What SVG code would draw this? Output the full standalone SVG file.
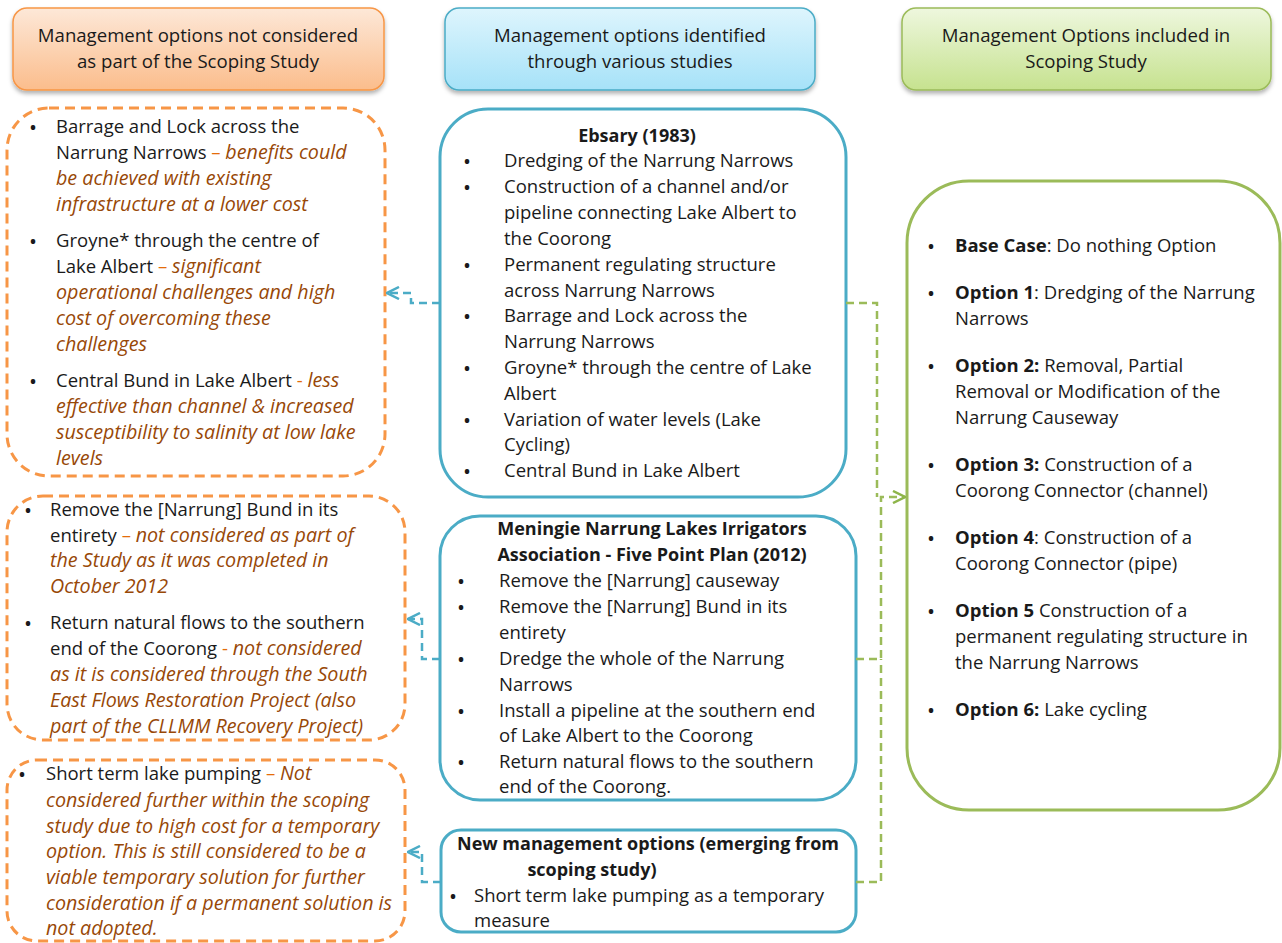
<svg xmlns="http://www.w3.org/2000/svg" width="1282" height="943" viewBox="0 0 1282 943">
<defs>
<linearGradient id="gOr" x1="0" y1="0" x2="0" y2="1"><stop offset="0" stop-color="#fde8d8"/><stop offset="1" stop-color="#fbbd8c"/></linearGradient>
<linearGradient id="gBl" x1="0" y1="0" x2="0" y2="1"><stop offset="0" stop-color="#def5fd"/><stop offset="1" stop-color="#a6e2f8"/></linearGradient>
<linearGradient id="gGr" x1="0" y1="0" x2="0" y2="1"><stop offset="0" stop-color="#eef7de"/><stop offset="1" stop-color="#c6e28f"/></linearGradient>
<filter id="sh" x="-10%" y="-20%" width="120%" height="150%"><feDropShadow dx="0" dy="3" stdDeviation="2" flood-color="#000" flood-opacity="0.3"/></filter>
<marker id="aB" markerWidth="14" markerHeight="14" refX="13" refY="7" orient="auto" markerUnits="userSpaceOnUse"><path d="M1,1 L13,7 L1,13" fill="none" stroke="#4bacc6" stroke-width="2.5"/></marker>
<marker id="aG" markerWidth="14" markerHeight="14" refX="13" refY="7" orient="auto" markerUnits="userSpaceOnUse"><path d="M1,1 L13,7 L1,13" fill="none" stroke="#8eb54a" stroke-width="2.5"/></marker>
</defs>
<style>
text{font-family:"Open Sans","Liberation Sans",sans-serif;font-size:18.5px;fill:#1a1a1a}
.h{font-size:18.6px;text-anchor:middle}
.c{text-anchor:middle}
.b{font-weight:bold}
.t{font-size:18px}
.i{font-style:italic;fill:#984807;font-size:19.7px}
.d{fill:#e46c0a}
.u{font-weight:bold;font-size:16px}
.hdr{stroke-width:1.5}
.od{fill:#fff;stroke:#f79646;stroke-width:3;stroke-dasharray:10 6}
.bl{fill:#fff;stroke:#4bacc6;stroke-width:3}
.gr{fill:#fff;stroke:#9bbb59;stroke-width:3}
.cb{fill:none;stroke:#4bacc6;stroke-width:2.5;stroke-dasharray:8 5}
.cg{fill:none;stroke:#9bbb59;stroke-width:2.5;stroke-dasharray:8 5}
</style>

<g id="hdr-left">
<rect x="13" y="8" width="371" height="82" rx="14" fill="url(#gOr)" stroke="#f79646" class="hdr" filter="url(#sh)"/>
<text class="h" x="198" y="42">Management options not considered</text>
<text class="h" x="198" y="68">as part of the Scoping Study</text>
</g>
<g id="hdr-mid">
<rect x="445" y="8" width="370" height="82" rx="14" fill="url(#gBl)" stroke="#4bacc6" class="hdr" filter="url(#sh)"/>
<text class="h" x="630" y="42">Management options identified</text>
<text class="h" x="630" y="68">through various studies</text>
</g>
<g id="hdr-right">
<rect x="902" y="8" width="369" height="82" rx="14" fill="url(#gGr)" stroke="#9bbb59" class="hdr" filter="url(#sh)"/>
<text class="h" x="1086" y="42">Management Options included in</text>
<text class="h" x="1086" y="68">Scoping Study</text>
</g>

<g id="left1">
<rect x="7" y="108" width="378" height="368" rx="42" class="od"/>
<text x="30" y="133" class="u">•</text>
<text x="56" y="133">Barrage and Lock across the</text>
<text x="56" y="159">Narrung Narrows<tspan class="d"> – </tspan><tspan class="i">benefits could</tspan></text>
<text x="56" y="185" class="i">be achieved with existing</text>
<text x="56" y="211" class="i">infrastructure at a lower cost</text>
<text x="30" y="247" class="u">•</text>
<text x="56" y="247">Groyne* through the centre of</text>
<text x="56" y="273">Lake Albert <tspan class="d">– </tspan><tspan class="i">significant</tspan></text>
<text x="56" y="299" class="i">operational challenges and high</text>
<text x="56" y="325" class="i">cost  of overcoming these</text>
<text x="56" y="351" class="i">challenges</text>
<text x="30" y="387" class="u">•</text>
<text x="56" y="387">Central Bund in Lake Albert<tspan class="d"> -  </tspan><tspan class="i">less</tspan></text>
<text x="56" y="413" class="i">effective than channel &amp; increased</text>
<text x="56" y="439" class="i">susceptibility to salinity at low lake</text>
<text x="56" y="465" class="i">levels</text>
</g>

<g id="left2">
<rect x="7" y="496" width="398" height="244" rx="36" class="od"/>
<text x="25" y="516" class="u">•</text>
<text x="50" y="516">Remove the [Narrung] Bund in its</text>
<text x="50" y="542">entirety <tspan class="d">– </tspan><tspan class="i">not considered as part of</tspan></text>
<text x="50" y="567" class="i">the Study as it was completed in</text>
<text x="50" y="593" class="i">October 2012</text>
<text x="25" y="629" class="u">•</text>
<text x="50" y="629">Return natural flows to the southern</text>
<text x="50" y="655">end of the Coorong  <tspan class="d">- </tspan><tspan class="i">not considered</tspan></text>
<text x="50" y="681" class="i">as it is considered through the South</text>
<text x="50" y="707" class="i">East Flows Restoration Project (also</text>
<text x="50" y="733" class="i">part of the CLLMM Recovery Project)</text>
</g>

<g id="left3">
<rect x="7" y="760" width="398" height="181" rx="30" class="od"/>
<text x="19" y="780" class="u">•</text>
<text x="46" y="780">Short term lake pumping <tspan class="d">– </tspan><tspan class="i">Not</tspan></text>
<text x="46" y="807" class="i">considered further within the scoping</text>
<text x="46" y="833" class="i">study due to high cost for a temporary</text>
<text x="46" y="858" class="i">option. This is still considered to be a</text>
<text x="46" y="884" class="i">viable temporary solution for further</text>
<text x="46" y="910" class="i">consideration if a permanent solution is</text>
<text x="46" y="935" class="i">not adopted.</text>
</g>

<g id="ebsary">
<rect x="440" y="109" width="406" height="388" rx="48" class="bl"/>
<text x="637" y="142" class="c b t">Ebsary (1983)</text>
<text x="464" y="167" class="u">•</text><text x="504" y="167">Dredging of the Narrung Narrows</text>
<text x="464" y="193" class="u">•</text><text x="504" y="193">Construction of a channel and/or</text>
<text x="504" y="219">pipeline connecting Lake Albert to</text>
<text x="504" y="245">the Coorong</text>
<text x="464" y="271" class="u">•</text><text x="504" y="271">Permanent regulating structure</text>
<text x="504" y="297">across Narrung Narrows</text>
<text x="464" y="322" class="u">•</text><text x="504" y="322">Barrage and Lock across the</text>
<text x="504" y="348">Narrung Narrows</text>
<text x="464" y="374" class="u">•</text><text x="504" y="374">Groyne* through the centre of Lake</text>
<text x="504" y="400">Albert</text>
<text x="464" y="426" class="u">•</text><text x="504" y="426">Variation of water levels (Lake</text>
<text x="504" y="451">Cycling)</text>
<text x="464" y="477" class="u">•</text><text x="504" y="477">Central Bund in Lake Albert</text>
</g>

<g id="meningie">
<rect x="440" y="516" width="416" height="284" rx="40" class="bl"/>
<text x="652" y="535" class="c b t">Meningie Narrung Lakes Irrigators</text>
<text x="652" y="561" class="c b t">Association  - Five Point Plan (2012)</text>
<text x="458" y="587" class="u">•</text><text x="499" y="587">Remove the [Narrung] causeway</text>
<text x="458" y="613" class="u">•</text><text x="499" y="613">Remove the [Narrung] Bund in its</text>
<text x="499" y="639">entirety</text>
<text x="458" y="665" class="u">•</text><text x="499" y="665">Dredge the whole of the Narrung</text>
<text x="499" y="691">Narrows</text>
<text x="458" y="717" class="u">•</text><text x="499" y="717">Install a pipeline at the southern end</text>
<text x="499" y="742">of Lake Albert to the Coorong</text>
<text x="458" y="768" class="u">•</text><text x="499" y="768">Return natural flows to the southern</text>
<text x="499" y="793">end of the Coorong.</text>
</g>

<g id="newopts">
<rect x="441" y="830" width="415" height="102" rx="20" class="bl"/>
<text x="648" y="850" class="c b t">New management options (emerging from</text>
<text x="592" y="876" class="c b t">scoping study)</text>
<text x="450" y="902" class="u">•</text><text x="474" y="902">Short term lake pumping as a temporary</text>
<text x="474" y="927">measure</text>
</g>

<g id="included">
<rect x="907" y="181" width="373" height="629" rx="62" class="gr"/>
<text x="928" y="252" class="u">•</text><text x="955" y="252"><tspan class="b">Base Case</tspan>: Do nothing Option</text>
<text x="928" y="299" class="u">•</text><text x="955" y="299"><tspan class="b">Option 1</tspan>: Dredging of the Narrung</text>
<text x="955" y="325">Narrows</text>
<text x="928" y="372" class="u">•</text><text x="955" y="372"><tspan class="b">Option 2:</tspan> Removal, Partial</text>
<text x="955" y="398">Removal or Modification of the</text>
<text x="955" y="424">Narrung Causeway</text>
<text x="928" y="471" class="u">•</text><text x="955" y="471"><tspan class="b">Option 3:</tspan> Construction of a</text>
<text x="955" y="497">Coorong Connector (channel)</text>
<text x="928" y="544" class="u">•</text><text x="955" y="544"><tspan class="b">Option 4</tspan>: Construction of a</text>
<text x="955" y="570">Coorong Connector (pipe)</text>
<text x="928" y="617" class="u">•</text><text x="955" y="617"><tspan class="b">Option 5</tspan> Construction of a</text>
<text x="955" y="643">permanent regulating structure in</text>
<text x="955" y="669">the Narrung Narrows</text>
<text x="928" y="716" class="u">•</text><text x="955" y="716"><tspan class="b">Option 6:</tspan> Lake cycling</text>
</g>

<g id="connectors">
<path d="M440,303 H411 V293 H387" class="cb" marker-end="url(#aB)"/>
<path d="M440,659 H422 V619 H408" class="cb" marker-end="url(#aB)"/>
<path d="M441,882 H422 V852 H408" class="cb" marker-end="url(#aB)"/>
<path d="M846,303 H877 V497" class="cg"/>
<path d="M856,659 H881 V497 H905" class="cg" marker-end="url(#aG)"/>
<path d="M856,882 H881 V659" class="cg"/>
</g>
</svg>
